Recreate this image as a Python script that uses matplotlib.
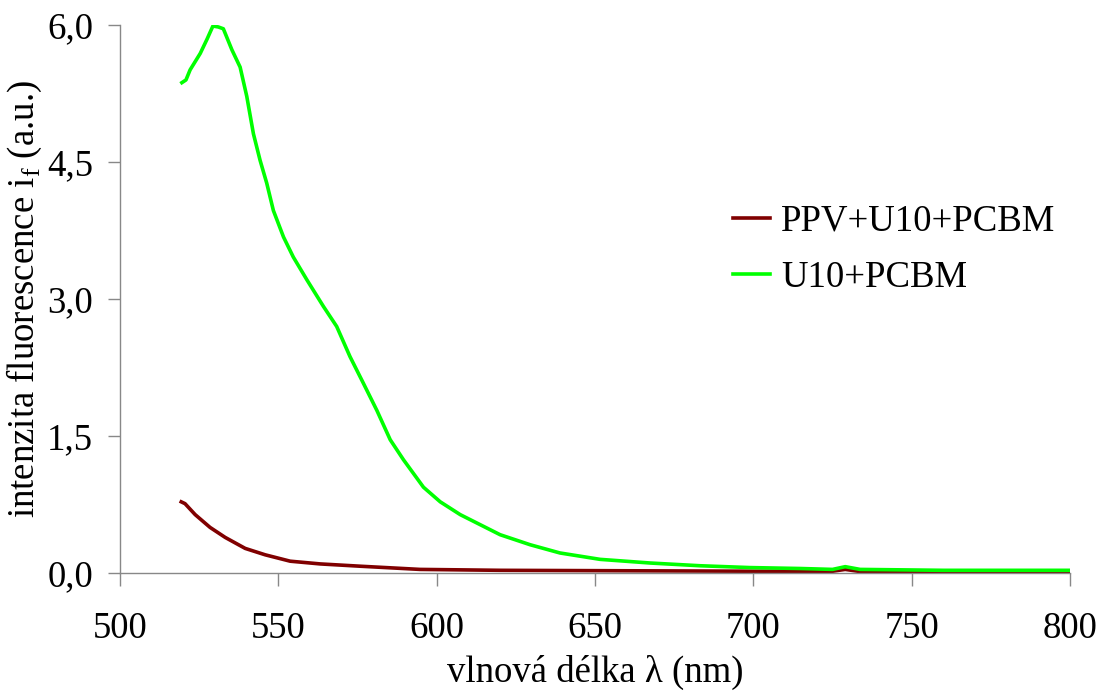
import matplotlib
matplotlib.use("Agg")
from matplotlib import pyplot as plt

plt.rcParams['font.family'] = ['Liberation Serif', 'DejaVu Serif']
plt.rcParams['mathtext.fontset'] = 'custom'
plt.rcParams['mathtext.rm'] = 'Liberation Serif'

# U10+PCBM
wl_green = [519.5, 520.8, 522.1, 525.3, 527.5, 529.3, 531.0, 532.6, 535.3, 537.9,
            540.0, 542.1, 544.2, 546.3, 548.4, 551.6, 554.7, 559.0, 564.2, 568.4,
            572.6, 576.8, 581.1, 585.3, 589.5, 595.8, 601.1, 607.4, 613.7, 620.0,
            629.5, 638.9, 651.6, 667.4, 683.2, 698.9, 714.7, 725.0, 729.0, 733.7,
            760.0, 800.0]
if_green = [5.37, 5.40, 5.51, 5.69, 5.85, 5.99, 5.98, 5.96, 5.73, 5.54,
            5.22, 4.81, 4.52, 4.27, 3.97, 3.68, 3.46, 3.21, 2.92, 2.70,
            2.37, 2.08, 1.78, 1.46, 1.24, 0.94, 0.78, 0.64, 0.53, 0.42,
            0.31, 0.22, 0.15, 0.11, 0.08, 0.06, 0.05, 0.04, 0.07, 0.04,
            0.03, 0.03]

# PPV+U10+PCBM
wl_red = [519.3, 520.5, 523.7, 528.4, 533.2, 539.5, 545.8, 553.7, 563.2, 575.8,
          594.7, 620.0, 660.0, 700.0, 725.0, 729.0, 733.0, 760.0, 800.0]
if_red = [0.78, 0.76, 0.64, 0.50, 0.39, 0.27, 0.20, 0.13, 0.10, 0.075,
          0.04, 0.03, 0.025, 0.02, 0.02, 0.04, 0.02, 0.02, 0.02]

fs = 26.5

fig = plt.figure(figsize=(11.02, 6.98), dpi=100)
ax = fig.add_axes([0.109, 0.179, 0.862, 0.785])

ax.plot(wl_red, if_red, color='#800000', lw=2.6, label='PPV+U10+PCBM')
ax.plot(wl_green, if_green, color='#00ff00', lw=2.6, label='U10+PCBM')

ax.set_xlim(500, 800)
ax.set_ylim(0, 6)
ax.set_xticks([500, 550, 600, 650, 700, 750, 800])
ax.set_yticks([0, 1.5, 3.0, 4.5, 6.0])
ax.set_yticklabels(['0,0', '1,5', '3,0', '4,5', '6,0'])

for s in ['top', 'right']:
    ax.spines[s].set_visible(False)
for s in ['left', 'bottom']:
    ax.spines[s].set_color('#888888')
    ax.spines[s].set_linewidth(1)
ax.tick_params(colors='#888888', labelcolor='black', length=9, width=1,
               labelsize=fs)
ax.tick_params(axis='x', pad=19)
ax.tick_params(axis='y', pad=10.5)

ax.set_xlabel('vlnová délka λ (nm)', fontsize=fs, labelpad=6)
ax.set_ylabel('intenzita fluorescence i$_\\mathrm{f}$ (a.u.)', fontsize=fs, labelpad=2.5)

ax.legend(loc='upper left', bbox_to_anchor=(0.63, 0.70), frameon=False,
          fontsize=fs, handlelength=1.0, handletextpad=0.3, labelspacing=0.6,
          borderaxespad=0)

fig.savefig('out.png', dpi=100)
